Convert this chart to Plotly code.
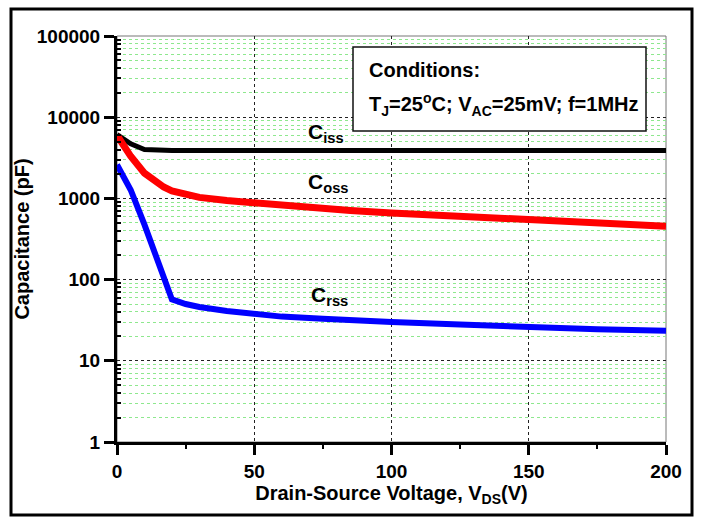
import numpy as np
import plotly.graph_objects as go

# ---- data ----
vds = [0, 5, 10, 15, 17, 20, 25, 30, 40, 50, 60, 75, 85, 100, 125, 150, 175, 200]
ciss = [6100, 4700, 4000, 3920, 3900, 3900, 3900, 3900, 3900, 3900, 3900, 3900, 3900, 3900, 3900, 3900, 3900, 3900]
coss = [6000, 3300, 2050, 1500, 1380, 1240, 1120, 1030, 940, 875, 840, 760, 710, 660, 600, 545, 500, 455]
crss = [2600, 1270, 475, 155, 100, 57, 50, 46, 41, 37.5, 35, 33, 31.6, 30, 28, 26, 24.5, 23.5]

x_ticks = [0, 50, 100, 150, 200]
y_ticks = [1, 10, 100, 1000, 10000, 100000]
y_tick_labels = ["1", "10", "100", "1000", "10000", "100000"]
y_minor = [m * 10 ** k for k in range(0, 5) for m in range(2, 10)]

W, H = 703, 519
L, R, T, B = 117, 37, 36, 77
PW, PH = W - L - R, H - T - B
FONT = "Liberation Sans, Arial, sans-serif"


def px_x(p):
    return (p - L) / PW


def px_y(p):
    return (H - B - p) / PH


def b(s):
    return "<b>" + s + "</b>"


fig = go.Figure()
fig.add_trace(go.Scatter(x=vds, y=ciss, mode="lines", line=dict(color="#000000", width=5), name="Ciss"))
fig.add_trace(go.Scatter(x=vds, y=coss, mode="lines", line=dict(color="#ff0000", width=7), name="Coss"))
fig.add_trace(go.Scatter(x=vds, y=crss, mode="lines", line=dict(color="#0000ff", width=6), name="Crss"))

# curve labels
labels = [("C<sub>iss</sub>", 69, 6300), ("C<sub>oss</sub>", 69, 1550), ("C<sub>rss</sub>", 70, 63)]
for txt, lx, ly in labels:
    fig.add_annotation(x=lx, y=np.log10(ly), xref="x", yref="y", text=b(txt), showarrow=False,
                       xanchor="left", yanchor="middle", font=dict(family=FONT, size=21, color="black"))

# conditions box
fig.add_shape(type="rect", xref="paper", yref="paper", x0=px_x(353), x1=px_x(646), y0=px_y(131), y1=px_y(47),
              line=dict(color="#111111", width=1.5), fillcolor="white", layer="above")
fig.add_annotation(xref="paper", yref="paper", x=px_x(367), y=px_y(70), xanchor="left", yanchor="middle",
                   text=b("Conditions:"), showarrow=False, font=dict(family=FONT, size=20, color="black"))
fig.add_annotation(xref="paper", yref="paper", x=px_x(367), y=px_y(104), xanchor="left", yanchor="middle",
                   text=b("T<sub>J</sub>=25<sup>o</sup>C; V<sub>AC</sub>=25mV; f=1MHz"), showarrow=False,
                   font=dict(family=FONT, size=20, color="black"))

# plot frame (thin) and outer border
fig.add_shape(type="rect", xref="paper", yref="paper", x0=0, x1=1, y0=0, y1=1,
              line=dict(color="#777777", width=1), layer="below")
fig.add_shape(type="rect", xref="paper", yref="paper", x0=px_x(11), x1=px_x(692), y0=px_y(515), y1=px_y(9),
              line=dict(color="black", width=3))

fig.update_layout(
    width=W, height=H,
    margin=dict(l=L, r=R, t=T, b=B),
    paper_bgcolor="white", plot_bgcolor="white",
    showlegend=False,
    font=dict(family=FONT, size=19, color="black"),
)
fig.update_xaxes(
    range=[0, 200], tickvals=x_ticks, ticktext=[b(str(v)) for v in x_ticks],
    ticks="outside", ticklen=10, tickwidth=3, tickcolor="black",
    showline=True, linecolor="black", linewidth=3,
    showgrid=True, gridcolor="#222222", griddash="dot", gridwidth=1,
    zeroline=False,
    tickfont=dict(family=FONT, size=19),
    minor=dict(tickvals=[25, 75, 125, 175], ticks="outside", ticklen=4, tickwidth=2, tickcolor="black", showgrid=False),
    title=dict(text=b("Drain-Source Voltage, V<sub>DS</sub>(V)"), font=dict(family=FONT, size=20), standoff=6),
)
fig.update_yaxes(
    type="log", range=[0, 5], tickvals=y_ticks, ticktext=[b(t) for t in y_tick_labels],
    ticks="outside", ticklen=10, tickwidth=3, tickcolor="black",
    showline=True, linecolor="black", linewidth=3,
    showgrid=True, gridcolor="#222222", griddash="dot", gridwidth=1,
    zeroline=False,
    tickfont=dict(family=FONT, size=19),
    minor=dict(tickvals=y_minor, ticks="inside", ticklen=4, tickwidth=2, tickcolor="black",
               showgrid=True, gridcolor="#8ee88e", griddash="dot", gridwidth=1),
    title=dict(text=b("Capacitance (pF)"), font=dict(family=FONT, size=20), standoff=2),
)

fig.write_html("out.html")
